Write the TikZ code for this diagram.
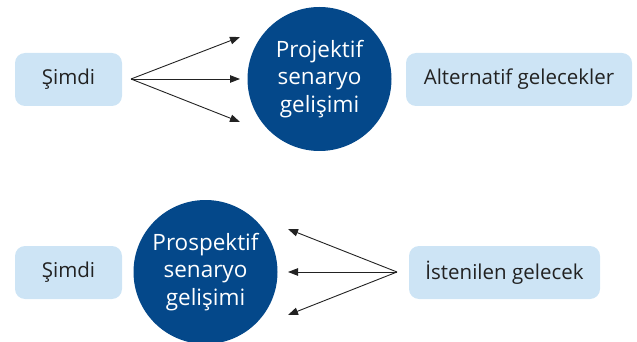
\documentclass[tikz,border=0pt]{standalone}
\usepackage{fontspec}
\setmainfont{Open Sans}
\usetikzlibrary{arrows.meta}
\definecolor{boxblue}{HTML}{CDE4F5}
\definecolor{circblue}{HTML}{04488A}
\definecolor{txt}{HTML}{222222}
\begin{document}
\begin{tikzpicture}[x=1pt,y=-1pt,
  box/.style={draw=none,fill=boxblue,rounded corners=10pt,text=txt,font=\fontsize{20.5}{24}\selectfont,inner sep=0pt},
  circ/.style={circle,fill=circblue,text=white,minimum size=144pt,inner sep=0pt,align=center,font=\fontsize{22.5}{27.5}\selectfont},
  arr/.style={draw=txt,line width=0.9pt,-{Triangle[length=10pt,width=7.5pt]}}]
\useasboundingbox (0,0) rectangle (637,342);
% top row
\node[box,minimum width=107pt,minimum height=53pt] (s1) at (68.5,79.5) {Şimdi};
\node[circ] (c1) at (319.5,79) {Projektif\\senaryo\\gelişimi};
\node[box,minimum width=226pt,minimum height=53pt] (a1) at (519,79.5) {Alternatif gelecekler};
\coordinate (o1) at (131,79);
\coordinate (t1) at (240,37);
\coordinate (t2) at (240,79);
\coordinate (t3) at (240,122);
\draw[arr] (o1) -- (t1);
\draw[arr] (o1) -- (t2);
\draw[arr] (o1) -- (t3);
% bottom row
\node[box,minimum width=107pt,minimum height=53pt] (s2) at (68.5,272.5) {Şimdi};
\node[circ] (c2) at (205.5,272) {Prospektif\\senaryo\\gelişimi};
\node[box,minimum width=191pt,minimum height=53pt] (i2) at (504.5,272.5) {İstenilen gelecek};
\coordinate (o2) at (397,272);
\coordinate (u1) at (288,229);
\coordinate (u2) at (288,272);
\coordinate (u3) at (288,315);
\draw[arr] (o2) -- (u1);
\draw[arr] (o2) -- (u2);
\draw[arr] (o2) -- (u3);
\end{tikzpicture}
\end{document}
